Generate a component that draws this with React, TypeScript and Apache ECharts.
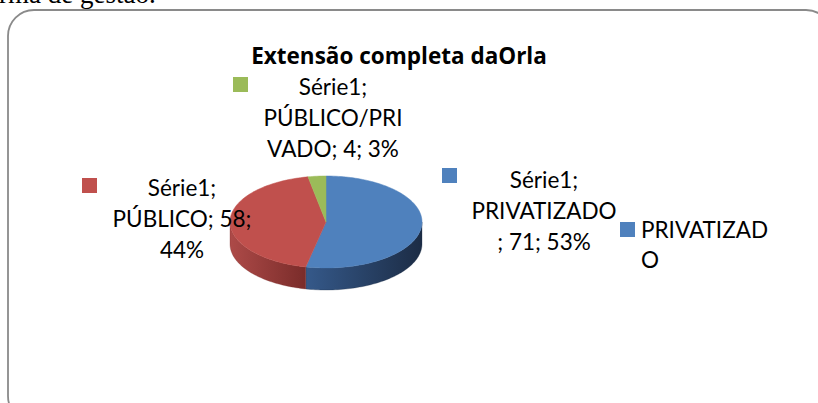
import React, { useEffect, useRef } from "react";
import * as echarts from "echarts";

const seriesName = "Série1";
const categories = ["PRIVATIZADO", "PÚBLICO", "PÚBLICO/PRIVADO"];
const values = [71, 58, 4];
const labelBreaks = [11, 12, 11];
const legendBreak = 10;
const titleText = "Extensão completa daOrla";
const pageText = "rma de gestão.";

const topColors = ["#4f81bd", "#c0504d", "#9bbb59"];
const sideColors = [
  ["#35598a", "#1c2c45"],
  ["#ad4a48", "#7a2c2a"],
  ["#7d9a45", "#5f7733"],
];

const total = values.reduce((a, b) => a + b, 0);
const pct = values.map((v) => Math.round((v / total) * 100));

function labelText(i: number) {
  const full = `${categories[i]}; ${values[i]}; ${pct[i]}%`;
  const b = labelBreaks[i];
  return `${seriesName};\n${full.slice(0, b)}\n${full.slice(b).trim()}`;
}

const CX = 326;
const CY = 222;
const RX = 96;
const RY = 46;
const DEPTH = 22;

const FONT = "Lato";
const FS = 22.5;
const LH = 31;

// label anchor positions (block centre) and marker positions
const labelPos = [
  { x: 544, y: 210, mx: 442, my: 168 },
  { x: 182, y: 218, mx: 82, my: 178 },
  { x: 333, y: 117, mx: 233, my: 77 },
];

export default function App() {
  const ref = useRef<HTMLDivElement>(null);
  useEffect(() => {
    if (!ref.current) return;
    const chart = echarts.init(ref.current, undefined, { renderer: "svg" });
    const graphics: any[] = [
      {
        type: "rect",
        shape: { x: 8, y: 10, width: 824, height: 412, r: 26 },
        style: { fill: "none", stroke: "#8a8a8a", lineWidth: 1.8 },
        silent: true,
        z: 1,
      },
      {
        type: "text",
        x: -1,
        y: 7,
        z: 1,
        style: {
          text: pageText,
          font: "27px 'Liberation Serif', serif",
          fill: "#000",
          align: "left",
          verticalAlign: "bottom",
        },
      },
      {
        type: "text",
        x: 399,
        y: 55,
        z: 100,
        style: {
          text: titleText,
          font: `bold 22.5px 'Open Sans'`,
          fill: "#000",
          align: "center",
          verticalAlign: "middle",
        },
      },
    ];
    categories.forEach((_, i) => {
      const p = labelPos[i];
      graphics.push({
        type: "rect",
        z: 100,
        shape: { x: p.mx, y: p.my, width: 15, height: 15 },
        style: { fill: topColors[i] },
      });
      graphics.push({
        type: "text",
        x: p.x,
        y: p.y,
        z: 100,
        style: {
          text: labelText(i),
          font: `${FS}px ${FONT}`,
          lineHeight: LH,
          fill: "#000",
          align: "center",
          verticalAlign: "middle",
        },
      });
    });
    // legend (only first entry visible)
    graphics.push({
      type: "rect",
      z: 100,
      shape: { x: 620, y: 222, width: 15, height: 15 },
      style: { fill: topColors[0] },
    });
    graphics.push({
      type: "text",
      x: 641,
      y: 244,
      z: 100,
      style: {
        text: categories[0].slice(0, legendBreak) + "\n" + categories[0].slice(legendBreak),
        font: `${FS}px ${FONT}`,
        lineHeight: 30,
        fill: "#000",
        align: "left",
        verticalAlign: "middle",
      },
    });

    const option: any = {
      animation: false,
      backgroundColor: "#fff",
      series: [
        {
          type: "custom",
          coordinateSystem: "none",
          silent: true,
          z: 10,
          data: values.map((v, i) => ({ name: categories[i], value: v })),
          renderItem: (params: any, api: any) => {
            const i = params.dataIndex;
            const v = api.value(0);
            let start = 0;
            for (let k = 0; k < i; k++) start += values[k];
            const a0 = (start / total) * Math.PI * 2;
            const a1 = ((start + v) / total) * Math.PI * 2;
            const pt = (a: number, dy = 0) => [
              CX + RX * Math.sin(a),
              CY - RY * Math.cos(a) + dy,
            ];
            const N = Math.max(2, Math.ceil((a1 - a0) / (Math.PI / 120)));
            const topPts: number[][] = [[CX, CY]];
            for (let j = 0; j <= N; j++) topPts.push(pt(a0 + ((a1 - a0) * j) / N));
            const children: any[] = [];
            const s0 = Math.max(a0, Math.PI / 2);
            const s1 = Math.min(a1, (3 * Math.PI) / 2);
            if (s1 > s0) {
              const M = Math.max(2, Math.ceil((s1 - s0) / (Math.PI / 120)));
              const sp: number[][] = [];
              for (let j = 0; j <= M; j++) sp.push(pt(s0 + ((s1 - s0) * j) / M));
              for (let j = M; j >= 0; j--) sp.push(pt(s0 + ((s1 - s0) * j) / M, DEPTH));
              children.push({
                type: "polygon",
                shape: { points: sp },
                style: {
                  fill: new echarts.graphic.LinearGradient(0, 0, 1, 0, [
                    { offset: 0, color: sideColors[i][0] },
                    { offset: 1, color: sideColors[i][1] },
                  ]),
                  stroke: sideColors[i][1],
                  lineWidth: 0.3,
                },
              });
            }
            children.push({
              type: "polygon",
              shape: { points: topPts },
              style: { fill: topColors[i], stroke: topColors[i], lineWidth: 0.5 },
            });
            return { type: "group", children };
          },
        },
      ],
      graphic: graphics,
    };
    chart.setOption(option);
    return () => chart.dispose();
  }, []);
  return (
    <div
      ref={ref}
      style={{ position: "fixed", left: 0, top: 0, width: 818, height: 403 }}
    />
  );
}
